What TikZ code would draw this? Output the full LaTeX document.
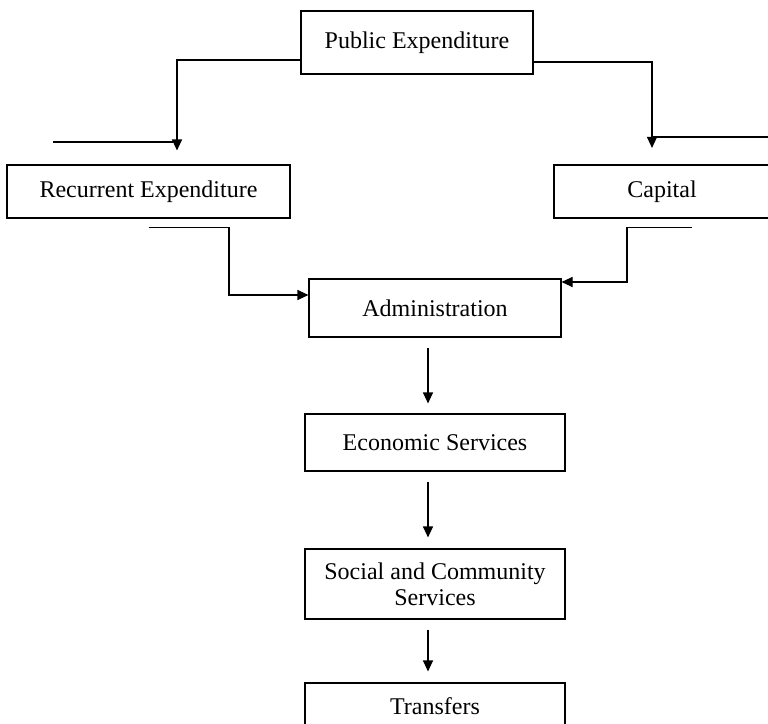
\documentclass[tikz,border=0pt]{standalone}
\usepackage{fontspec}
\setmainfont{Liberation Serif}
\usetikzlibrary{arrows.meta}
\begin{document}
\begin{tikzpicture}[x=1pt,y=-1pt,
		box/.style={draw,line width=1.1pt,inner sep=0pt,align=center,font=\fontsize{24}{26}\selectfont},
		arr/.style={line width=1.1pt,-{Triangle[length=11pt,width=10pt]}},
		lin/.style={line width=1.1pt}]
		
		\useasboundingbox (0,0) rectangle (768,723);
		
		\node[box,minimum width=232pt,minimum height=63pt] (pub) at (417,42.5) {Public Expenditure};
		\node[box,minimum width=283pt,minimum height=53pt] (rec) at (148.5,191.5) {Recurrent Expenditure};
		\node[box,minimum width=216pt,minimum height=53pt] (cap) at (662,191.5) {Capital};
		\node[box,minimum width=252pt,minimum height=58pt] (adm) at (435,308) {Administration};
		\node[box,minimum width=260pt,minimum height=57pt] (eco) at (435,442.5) {Economic Services};
		\node[box,minimum width=260pt,minimum height=70pt] (soc) at (435,584) {Social and Community\\Services};
		\node[box,minimum width=260pt,minimum height=46pt] (tra) at (435,706) {Transfers};
		
		\coordinate (recL) at (53,142);
		\coordinate (capR) at (770,137);
		
		\draw[arr] ([yshift=-17.5pt]pub.west) -| ([xshift=28.5pt,yshift=14pt]rec.north);
		\draw[arr] ([yshift=-19.5pt]pub.east) -| ([xshift=-10pt,yshift=16.5pt]cap.north);
		\draw[lin] (recL) -- ++(124,0);
		\draw[lin] (capR) -- ++(-118,0);
		
		\draw[arr] ([yshift=-9pt]rec.south) -- ++(80.5,0) |- ([yshift=13pt]adm.west);
		\draw[arr] ([xshift=30pt,yshift=-9pt]cap.south) -- ++(-65,0) |- ([yshift=26pt]adm.east);
		
		\draw[arr] ([xshift=-7pt,yshift=-10pt]adm.south) -- ([xshift=-7pt,yshift=10pt]eco.north);
		\draw[arr] ([xshift=-7pt,yshift=-10pt]eco.south) -- ([xshift=-7pt,yshift=11pt]soc.north);
		\draw[arr] ([xshift=-7pt,yshift=-10pt]soc.south) -- ([xshift=-7pt,yshift=11pt]tra.north);
	\end{tikzpicture}
\end{document}
